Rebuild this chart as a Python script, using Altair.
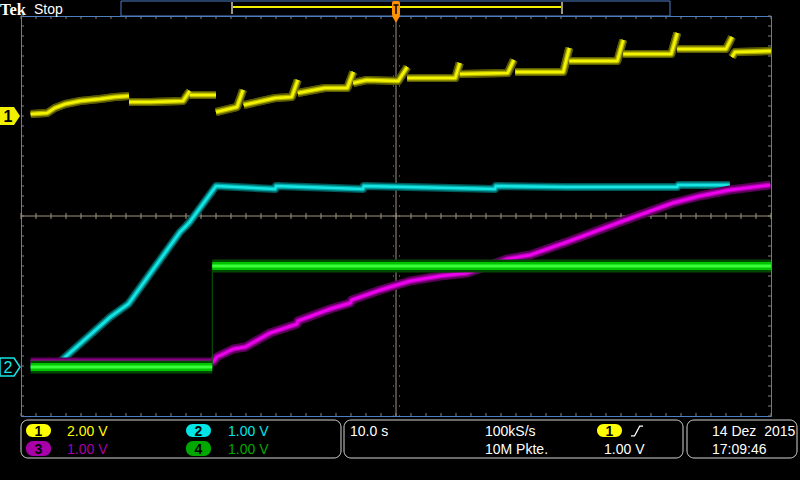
import altair as alt
import numpy as np
import pandas as pd

# ---------------- data read from the capture ----------------
# time in seconds (10.0 s/div, 0 = trigger), level in screen divisions (0 = centre line)
ch1_t = [-48.7, -46.5, -45.5, -44.1, -42.1, -39.5, -37.5, -35.6,
         -35.6, -32.8, -28.4, -27.5,
         -27.5, -24.0,
         -24.0, -21.2, -20.4,
         -20.3, -16.1, -13.9, -13.1,
         -13.1, -9.5, -6.5, -5.7,
         -5.7, -3.9, 0.3, 1.5,
         1.5, 7.9, 8.5,
         8.5, 14.9, 15.7,
         15.9, 22.3, 23.1,
         23.1, 29.5, 30.3,
         30.3, 36.7, 37.5,
         37.5, 44.0, 44.8,
         44.8, 45.2, 50.0]
ch1_v = [2.04, 2.06, 2.16, 2.24, 2.30, 2.34, 2.38, 2.40,
         2.28, 2.28, 2.30, 2.50,
         2.42, 2.42,
         2.08, 2.18, 2.52,
         2.22, 2.36, 2.38, 2.72,
         2.46, 2.56, 2.56, 2.88,
         2.66, 2.72, 2.70, 2.98,
         2.76, 2.76, 3.06,
         2.84, 2.86, 3.12,
         2.88, 2.88, 3.36,
         3.10, 3.10, 3.52,
         3.24, 3.24, 3.66,
         3.34, 3.34, 3.58,
         3.18, 3.28, 3.30]
ch1_seg = [1] * 8 + [2] * 4 + [3] * 2 + [4] * 3 + [5] * 4 + [6] * 4 + [7] * 4 + \
          [8] * 3 + [9] * 3 + [10] * 3 + [11] * 3 + [12] * 3 + [13] * 3 + [14] * 3

ch2_t = [-48.7, -45.5, -44.1, -38.1, -35.7, -35.3, -28.8, -28.0, -27.5, -24.0,
         -16.1, -16.0, -4.4, -4.3, 13.2, 13.3, 22.8, 37.5, 37.6, 44.5]
ch2_v = [-3.02, -3.02, -2.82, -2.02, -1.76, -1.68, -0.32, -0.20, -0.12, 0.60,
         0.54, 0.60, 0.54, 0.60, 0.54, 0.60, 0.58, 0.58, 0.62, 0.62]

ch3_t = [-48.7, -24.4, -23.9, -21.7, -20.1, -16.8, -13.2, -13.1, -8.8, -6.1, -5.9,
         -2.1, 1.9, 5.9, 9.5, 14.8, 17.9, 22.8, 29.9, 36.9, 40.5, 44.5, 49.9]
ch3_v = [-2.92, -2.92, -2.82, -2.66, -2.62, -2.34, -2.16, -2.10, -1.86, -1.74, -1.68,
         -1.48, -1.30, -1.20, -1.14, -0.86, -0.78, -0.52, -0.12, 0.26, 0.40, 0.52, 0.62]

ch4_t = [-48.7, -24.5, -24.5, 50.0]
ch4_v = [-3.02, -3.02, -1.00, -1.00]
ch4_seg = [1, 1, 2, 2]

ch_labels = ["1", "2", "3", "4"]
ch_scales = ["2.00 V", "1.00 V", "1.00 V", "1.00 V"]
timebase = "10.0 s"
sample_rate = "100kS/s"
record_len = "10M Pkte."
trig_level = "1.00 V"
date_txt = "14 Dez\u00a0 2015"
time_txt = "17:09:46"

grid_t = [-40, -30, -20, -10, 10, 20, 30, 40]
grid_v = [-3, -2, -1, 1, 2, 3]
minor_t = np.round(np.arange(-50, 50.001, 2.0), 3)
minor_v = np.round(np.arange(-4, 4.001, 0.2), 3)

# ---------------- styling ----------------
L, T, W, H = 21, 16, 750, 400
BLUE = "#4d7fc4"
TAN = "#9e957f"
GRAY = "#808080"
FONT = "Liberation Sans"

xs = alt.Scale(domain=[-50, 50], nice=False, zero=False)
ys = alt.Scale(domain=[-4, 4], nice=False, zero=False)
x_axis = alt.Axis(values=grid_t, grid=True, gridColor=GRAY, gridDash=[1, 9], gridWidth=1,
                  labels=False, ticks=False, domain=False, title="")
y_axis = alt.Axis(values=grid_v, grid=True, gridColor=GRAY, gridDash=[1, 14], gridWidth=1,
                  labels=False, ticks=False, domain=False, title="")

one = pd.DataFrame({"k": [0]})


def box(x1, y1, x2, y2, fill="black", stroke=None, radius=0, sw=1):
    kw = dict(fill=fill, cornerRadius=radius)
    if stroke:
        kw.update(stroke=stroke, strokeWidth=sw)
    return alt.Chart(one).mark_rect(**kw).encode(
        x=alt.value(x1 - L), x2=alt.value(x2 - L), y=alt.value(y1 - T), y2=alt.value(y2 - T))


def label(s, x, y, color="white", size=14, bold=False, font=FONT, align="left"):
    return alt.Chart(one).mark_text(
        text=s, color=color, fontSize=size, fontWeight="bold" if bold else "normal",
        font=font, align=align, baseline="alphabetic").encode(x=alt.value(x - L), y=alt.value(y - T))


def seg_line(x1, y1, x2, y2, color, sw=1):
    return alt.Chart(one).mark_rule(color=color, strokeWidth=sw).encode(
        x=alt.value(x1 - L), x2=alt.value(x2 - L), y=alt.value(y1 - T), y2=alt.value(y2 - T))


def glyph(path, x, y, size, fill=None, stroke=None, sw=1):
    kw = dict(shape=path, size=size, opacity=1)
    if fill:
        kw.update(filled=True, fill=fill)
    else:
        kw.update(filled=False)
    if stroke:
        kw.update(stroke=stroke, strokeWidth=sw)
    else:
        kw.update(strokeWidth=0)
    return alt.Chart(one).mark_point(**kw).encode(x=alt.value(x - L), y=alt.value(y - T))


def badge(x1, y1, x2, y2, color, num, base):
    return [box(x1, y1, x2, y2, fill=color, radius=7),
            label(num, (x1 + x2) / 2, base, color="black", size=14, bold=True, align="center")]


def trace(t, v, seg, styles, with_axes=False):
    df = pd.DataFrame({"t": t, "v": v, "seg": seg, "i": range(len(t))})
    out = []
    for k, (col, w) in enumerate(styles):
        ax = with_axes and k == 0
        base = alt.Chart(df).encode(
            x=alt.X("t:Q", scale=xs, axis=x_axis if ax else None),
            y=alt.Y("v:Q", scale=ys, axis=y_axis if ax else None),
            detail="seg:N", order="i:Q")
        out.append(base.mark_line(color=col, strokeWidth=w, strokeCap="butt", strokeJoin="round"))
    return out


layers = []
Y_STYLE = [("#5a5a00", 8), ("#b4b400", 5), ("#f4f400", 2.5)]

# ch1 first so that it carries the graticule grid
layers += trace(ch1_t, ch1_v, ch1_seg, Y_STYLE, with_axes=True)

# graticule: edge ticks and centre crosshair
tx = pd.DataFrame({"t": minor_t})
tv = pd.DataFrame({"v": minor_v})
for y1, y2 in [(0, 3), (H - 3, H)]:
    layers.append(alt.Chart(tx).mark_rule(color=GRAY).encode(
        x=alt.X("t:Q", scale=xs, axis=None), y=alt.value(y1), y2=alt.value(y2)))
for x1, x2 in [(0, 3), (W - 3, W)]:
    layers.append(alt.Chart(tv).mark_rule(color=GRAY).encode(
        y=alt.Y("v:Q", scale=ys, axis=None), x=alt.value(x1), x2=alt.value(x2)))
layers.append(alt.Chart(one).mark_rule(color=TAN, strokeWidth=1).encode(x=alt.XDatum(0, scale=xs, axis=None)))
layers.append(alt.Chart(one).mark_rule(color=TAN, strokeWidth=1).encode(y=alt.YDatum(0, scale=ys, axis=None)))
layers.append(alt.Chart(tx).mark_rule(color=TAN).encode(
    x=alt.X("t:Q", scale=xs, axis=None), y=alt.value(H / 2 - 3), y2=alt.value(H / 2 + 3)))
layers.append(alt.Chart(tv).mark_rule(color=TAN, strokeDash=[1, 5]).encode(
    y=alt.Y("v:Q", scale=ys, axis=None), x=alt.value(W / 2 - 3), x2=alt.value(W / 2 + 4)))

# traces on top of the crosshair
layers += trace(ch1_t, ch1_v, ch1_seg, Y_STYLE)
layers += trace(ch2_t, ch2_v, [1] * len(ch2_t), [("#005858", 8), ("#00a8a8", 5), ("#18e4e4", 2.5)])
layers += trace(ch3_t, ch3_v, [1] * len(ch3_t), [("#5c005c", 9), ("#b000b0", 5), ("#f000f0", 2.5)])
step_df = pd.DataFrame({"t": [ch4_t[1]], "v": [ch4_v[1]], "v2": [ch4_v[2]]})
layers.append(alt.Chart(step_df).mark_rule(color="#0b5a0b", strokeWidth=1).encode(
    x=alt.X("t:Q", scale=xs, axis=None), y=alt.Y("v:Q", scale=ys, axis=None), y2="v2:Q"))
layers += trace(ch4_t, ch4_v, ch4_seg, [("#004a00", 13), ("#00c400", 8), ("#3cff3c", 3)])

# ---------------- top bar ----------------
layers.append(label("Tek", 0, 15, size=16.5, bold=True, font="Liberation Serif"))
layers.append(label("Stop", 34, 14, size=14))
layers.append(box(121, 1, 670, 16, fill="black", stroke=BLUE))
layers.append(seg_line(232, 7, 561, 7, "#f0f000", 2))
for bx in (232, 562):
    layers.append(seg_line(bx, 2, bx, 14, TAN, 2))
layers.append(box(392, 1, 400, 16, fill="#ff9000", radius=2))
layers.append(seg_line(393.5, 5, 398.5, 5, "black", 1.5))
layers.append(seg_line(396, 5, 396, 14, "black", 1.5))
layers.append(glyph("triangle-down", 396, 19, 80, fill="#ff9000"))

# ---------------- channel markers ----------------
pent = "M-1,-0.9 L0.4,-0.9 L1,0 L0.4,0.9 L-1,0.9 Z"
layers.append(glyph(pent, 10, 116, 400, fill="#f0f000"))
layers.append(label(ch_labels[0], 8, 122, color="black", size=16, bold=True, align="center"))
layers.append(glyph(pent, 10, 367, 400, fill="black", stroke="#18e4e4", sw=1.5))
layers.append(label(ch_labels[1], 8, 373, color="#18e4e4", size=16, align="center"))

# ---------------- status bar ----------------
for x1, x2 in [(21, 341), (344, 683), (687, 797)]:
    layers.append(box(x1, 420, x2, 458, fill="black", stroke="#d4d4d4", radius=7))
layers += badge(26, 424, 51, 437, "#ffff00", ch_labels[0], 435.5)
layers += badge(26, 441, 51, 456, "#a800a8", ch_labels[2], 453.5)
layers += badge(186, 424, 211, 437, "#00e5e5", ch_labels[1], 435.5)
layers += badge(186, 441, 211, 456, "#00a800", ch_labels[3], 453.5)
layers.append(label(ch_scales[0], 67, 436, color="#ffff00"))
layers.append(label(ch_scales[2], 67, 454, color="#a800a8"))
layers.append(label(ch_scales[1], 228, 436, color="#00e5e5"))
layers.append(label(ch_scales[3], 228, 454, color="#00a800"))
layers.append(label(timebase, 350, 436))
layers.append(label(sample_rate, 485, 436))
layers.append(label(record_len, 485, 454))
layers += badge(597, 424, 622, 437, "#ffff00", ch_labels[0], 435.5)
layers.append(glyph("M-1,0.8 L-0.4,0.8 L0.45,-0.8 L1,-0.8", 637, 431, 144, stroke="white", sw=1.2))
layers.append(label(trig_level, 604, 454))
layers.append(label(date_txt, 712, 436))
layers.append(label(time_txt, 712, 454))

chart = alt.layer(*layers).properties(
    width=W, height=H, background="black",
    autosize=alt.AutoSizeParams(type="none"),
    padding={"left": L, "top": T, "right": 800 - L - W, "bottom": 480 - T - H},
).configure_view(stroke=BLUE, strokeWidth=1)

chart.save("out.html", embed_options={"renderer": "svg", "actions": False})
